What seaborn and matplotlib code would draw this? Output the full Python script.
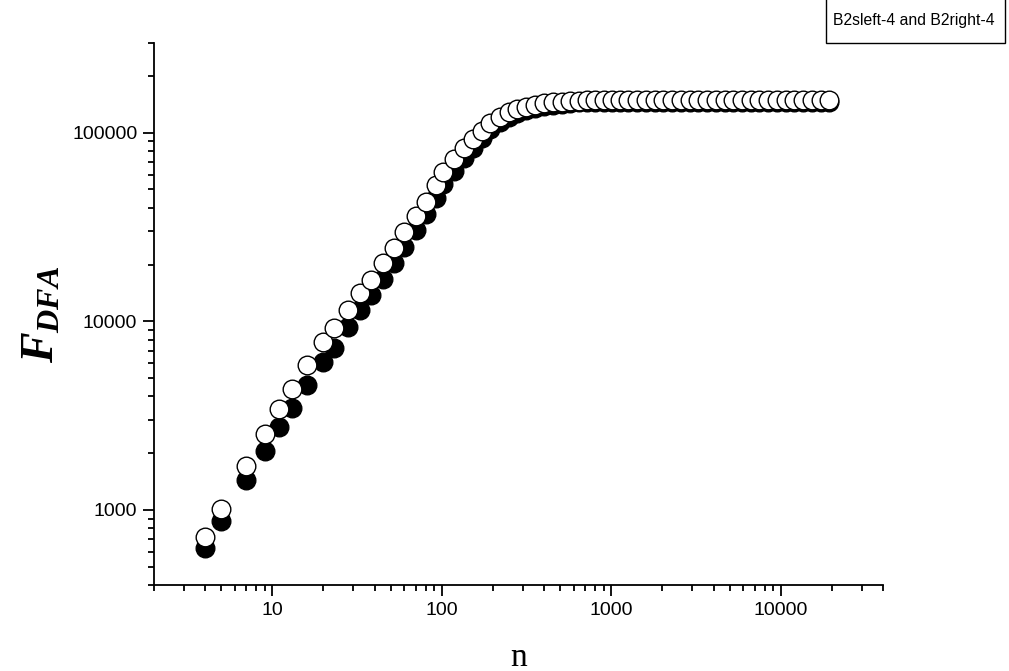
import numpy as np
import pandas as pd
import matplotlib
matplotlib.use("Agg")
import matplotlib.pyplot as plt
import seaborn as sns
from matplotlib.ticker import LogLocator, FixedLocator, NullFormatter, FixedFormatter
from matplotlib.patches import Rectangle

# ---- data ----
n_values = [4, 5, 7, 9, 11, 13, 16, 20, 23, 28, 33, 38, 45, 52, 60, 70, 80, 92,
            102, 117, 134, 153, 173, 193, 219, 248, 278, 315, 356, 402, 453, 511,
            573, 641, 718, 804, 900, 1008, 1128, 1258, 1416, 1596, 1796, 2023,
            2277, 2566, 2887, 3253, 3661, 4126, 4645, 5234, 5891, 6637, 7471,
            8419, 9476, 10675, 12017, 13541, 15240, 17170, 19320]

f_right = [716, 1012, 1714, 2535, 3440, 4393, 5845, 7800, 9185, 11480, 14070,
           16550, 20300, 24560, 29860, 36150, 43040, 52860, 62130, 72270, 82680,
           92600, 102500, 113000, 121600, 128300, 133000, 137300, 140300, 142900,
           144600, 146000, 147200, 148000, 148200, 148300, 148200, 148400, 148300,
           148500, 148400, 148300, 148500, 148400, 148600, 148500, 148400, 148600,
           148500, 148700, 148600, 148500, 148700, 148600, 148800, 148700, 148600,
           148800, 148700, 148900, 148800, 148700, 148900]

f_left = [625, 873, 1435, 2060, 2742, 3457, 4581, 6083, 7244, 9290, 11480, 13780,
          16700, 20300, 24900, 30500, 36900, 44880, 53500, 63000, 73200, 83200,
          93400, 104300, 113500, 121000, 126600, 131600, 135300, 138400, 140500,
          142300, 143800, 144600, 144900, 145000, 145000, 145100, 145000, 145200,
          145100, 145000, 145200, 145100, 145300, 145200, 145100, 145300, 145200,
          145400, 145300, 145200, 145400, 145300, 145500, 145400, 145300, 145500,
          145400, 145600, 145500, 145400, 145600]

x_major = [10, 100, 1000, 10000]
x_major_labels = ["10", "100", "1000", "10000"]
y_major = [1000, 10000, 100000]
y_major_labels = ["1000", "10000", "100000"]
legend_text = "B2sleft-4 and B2right-4"

# ---- style ----
sns.set_style("ticks")
plt.rcParams['font.family'] = ['Liberation Sans', 'DejaVu Sans']
plt.rcParams['mathtext.fontset'] = 'custom'
plt.rcParams['mathtext.it'] = 'Liberation Serif:italic:bold'
plt.rcParams['mathtext.rm'] = 'Liberation Serif:bold'
plt.rcParams['mathtext.bf'] = 'Liberation Serif:bold'

fig = plt.figure(figsize=(10.09, 6.71), dpi=100)
ax = fig.add_axes([154 / 1009, 86 / 671, 729 / 1009, 542.3 / 671])

df = pd.DataFrame({"n": n_values, "left": f_left, "right": f_right})

sns.scatterplot(data=df, x="n", y="left", ax=ax, color="black", edgecolor="black",
                s=180, linewidth=1.0, zorder=2, legend=False, clip_on=False)
sns.scatterplot(data=df, x="n", y="right", ax=ax, color="white", edgecolor="black",
                s=180, linewidth=1.0, zorder=3, legend=False, clip_on=False)

ax.set_xscale("log")
ax.set_yscale("log")
ax.set_xlim(2, 40000)
ax.set_ylim(400, 300000)

ax.xaxis.set_major_locator(FixedLocator(x_major))
ax.xaxis.set_major_formatter(FixedFormatter(x_major_labels))
ax.xaxis.set_minor_locator(LogLocator(base=10, subs=np.arange(2, 10)))
ax.xaxis.set_minor_formatter(NullFormatter())
ax.yaxis.set_major_locator(FixedLocator(y_major))
ax.yaxis.set_major_formatter(FixedFormatter(y_major_labels))
ax.yaxis.set_minor_locator(LogLocator(base=10, subs=np.arange(2, 10)))
ax.yaxis.set_minor_formatter(NullFormatter())

ax.tick_params(axis="both", which="major", direction="out", length=8, width=1.3,
               labelsize=14, color="black", labelcolor="black", pad=4)
ax.tick_params(axis="both", which="minor", direction="out", length=4.5, width=1.3,
               color="black")

for side in ["top", "right"]:
    ax.spines[side].set_visible(False)
for side in ["left", "bottom"]:
    ax.spines[side].set_linewidth(1.3)
    ax.spines[side].set_color("black")

ax.set_xlabel("n", fontfamily="Liberation Serif", fontsize=24, color="black")
ax.xaxis.set_label_coords(0.5, -0.106)
ax.xaxis.label.set_verticalalignment("top")
ax.set_ylabel(r"$F_{DFA}$", fontsize=33, color="black")
ax.yaxis.set_label_coords(-0.124, 0.5)

# title box in the top-right corner
rect = Rectangle((826 / 1009, (671 - 43) / 671), (1005 - 826) / 1009, 0.2,
                 transform=fig.transFigure, facecolor="white", edgecolor="black",
                 linewidth=1.0, clip_on=False)
fig.add_artist(rect)
fig.text(833 / 1009, (671 - 21) / 671, legend_text, fontsize=11.3, color="black",
         ha="left", va="center")

fig.savefig("out.png", dpi=100)
